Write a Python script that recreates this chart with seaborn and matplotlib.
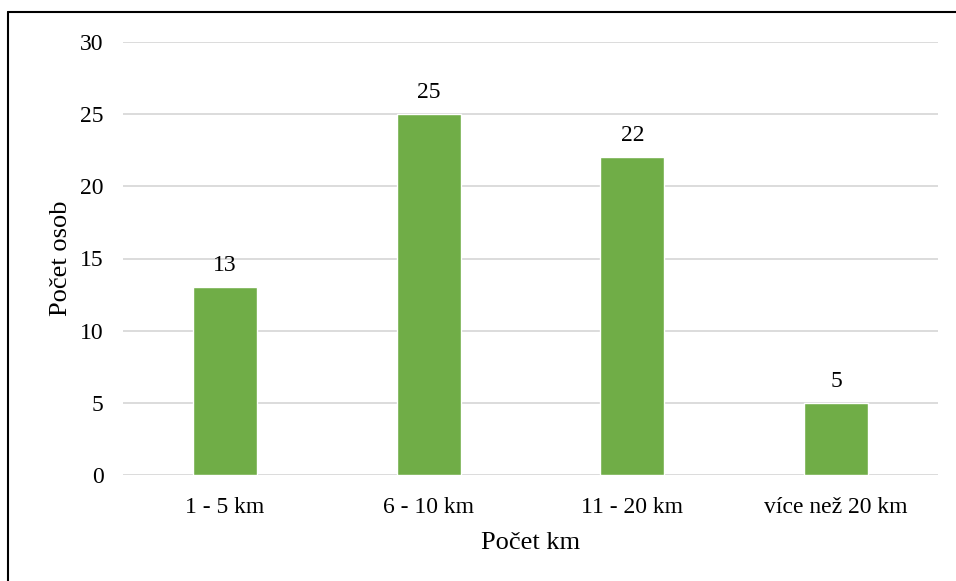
import matplotlib
matplotlib.use("Agg")
import matplotlib.pyplot as plt
import seaborn as sns
import pandas as pd
from matplotlib.lines import Line2D

categories = ["1 - 5 km", "6 - 10 km", "11 - 20 km", "více než 20 km"]
values = [13, 25, 22, 5]
yticks = [0, 5, 10, 15, 20, 25, 30]

sns.set_style("white")
plt.rcParams['font.family'] = ['Liberation Serif', 'DejaVu Serif']
plt.rcParams['text.color'] = 'black'
plt.rcParams['axes.labelcolor'] = 'black'

df = pd.DataFrame({"cat": categories, "val": values})

fig = plt.figure(figsize=(9.56, 5.81), dpi=100)
ax = fig.add_axes([123/956, 1-475/581, (938-123)/956, (475-42)/581])

sns.barplot(data=df, x="cat", y="val", color="#70AD47", width=0.314,
            saturation=1, ax=ax, zorder=3)

ax.set_ylim(0, 30)
ax.set_xlim(-0.5, 3.5)
ax.set_yticks(yticks)
ax.set_yticklabels([str(t) for t in yticks])
ax.grid(axis="y", color="#D9D9D9", linewidth=1.3, zorder=0)
ax.grid(axis="x", visible=False)
for s in ax.spines.values():
    s.set_visible(False)
ax.tick_params(axis="both", length=0, labelsize=17, colors="black")
ax.tick_params(axis="y", pad=14)
ax.tick_params(axis="x", pad=16)

for c in ax.containers:
    ax.bar_label(c, labels=[str(v) for v in values], padding=8, fontsize=17,
                 color="black")

ax.set_xlabel("Počet km", fontsize=19, labelpad=10, color="black")
ax.set_ylabel("Počet osob", fontsize=19, labelpad=6, color="black")

# outer frame (top and left lines)
fig.add_artist(Line2D([7.5/956, 7.5/956], [0, 1-12/581], transform=fig.transFigure,
                      color="black", linewidth=1.5))
fig.add_artist(Line2D([7.5/956, 1.0], [1-12/581, 1-12/581], transform=fig.transFigure,
                      color="black", linewidth=1.5))

fig.savefig("out.png", dpi=100, facecolor="white")
